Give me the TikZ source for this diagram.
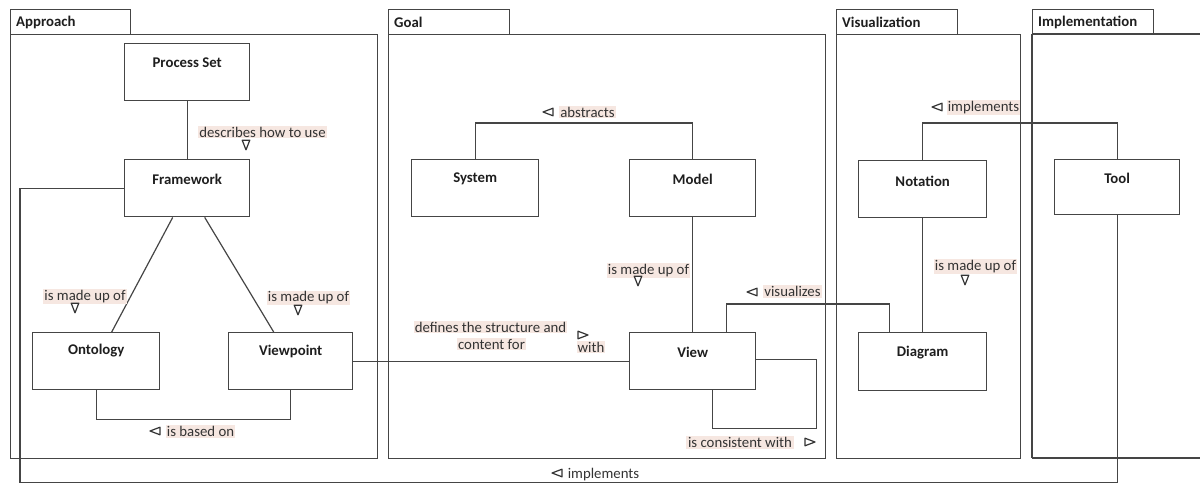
\documentclass[tikz,border=0pt]{standalone}
\usepackage{fontspec}
\setmainfont{Carlito}
\definecolor{lc}{HTML}{454545}
\definecolor{tc}{HTML}{333333}
\definecolor{nc}{HTML}{1E1E1E}
\definecolor{lbg}{HTML}{F6E7E1}
\begin{document}
\begin{tikzpicture}[x=1pt,y=-1pt,
  ln/.style={draw=lc, line width=1.2pt},
  pkline/.style={draw=lc, line width=1.4pt, line cap=butt},
  pkbox/.style={draw=lc, line width=1.4pt, inner sep=0pt, anchor=north west},
  blk/.style={draw=lc, line width=1.4pt, inner sep=0pt, anchor=north west, minimum height=57pt},
  nm/.style={font=\fontsize{14.8}{16}\selectfont\bfseries, text=nc, inner sep=0pt},
  pkn/.style={font=\fontsize{14.8}{16}\selectfont\bfseries, text=nc, inner sep=0pt, anchor=west},
  lab/.style={fill=lbg, inner sep=1pt, text=tc, font=\fontsize{14.8}{16}\selectfont},
  plain/.style={inner sep=1pt, text=tc, font=\fontsize{14.8}{16}\selectfont},
  tri/.style={draw=tc, line width=1.2pt, fill=white, line join=round},
  trileft/.pic={\draw[tri] (5,-3.8) -- (5,3.8) -- (-5,0) -- cycle;},
  triright/.pic={\draw[tri] (-5,-3.8) -- (-5,3.8) -- (5,0) -- cycle;},
  tridown/.pic={\draw[tri] (-3.8,-4.8) -- (3.8,-4.8) -- (0,4.8) -- cycle;}
]
\useasboundingbox (0,0) rectangle (1200,484);

% packages
\node[pkbox, minimum width=120pt, minimum height=25pt] (apT) at (10,9) {};
\node[pkbox, minimum width=367pt, minimum height=424pt] (apB) at (10,34) {};
\node[pkn] (apN) at (16,22) {Approach};
\node[pkbox, minimum width=121pt, minimum height=25pt] (goT) at (388,9) {};
\node[pkbox, minimum width=437pt, minimum height=424pt] (goB) at (388,34) {};
\node[pkn] (goN) at (394,22) {Goal};
\node[pkbox, minimum width=121pt, minimum height=25pt] (viT) at (836,9) {};
\node[pkbox, minimum width=184pt, minimum height=424pt] (viB) at (836,34) {};
\node[pkn] (viN) at (842,22) {Visualization};
\node[pkbox, minimum width=121pt, minimum height=25pt] (imT) at (1032,9) {};
\coordinate (imTL) at (1032,34);
\coordinate (imBL) at (1032,458);
\draw[pkline] (imTL) -- (imBL);
\draw[pkline] (imTL) -- ++(175,0);
\draw[pkline] (imBL) -- ++(175,0);
\node[pkn] (imN) at (1038,22) {Implementation};

% blocks
\node[blk, minimum width=125pt] (ps) at (124,43) {};
\node[blk, minimum width=125pt] (fw) at (124,159) {};
\node[blk, minimum width=127pt] (on) at (32,332) {};
\node[blk, minimum width=124pt] (vp) at (228,332) {};
\node[blk, minimum width=127pt] (sy) at (411,159) {};
\node[blk, minimum width=126pt] (mo) at (629,159) {};
\node[blk, minimum width=126pt] (vw) at (629,332) {};
\node[blk, minimum width=128pt] (no) at (858,160) {};
\node[blk, minimum width=128pt, minimum height=58pt] (dg) at (858,332) {};
\node[blk, minimum width=125pt, minimum height=55pt] (tool) at (1054,159) {};

\node[nm] (psT) at ([yshift=-20pt]ps.north) {Process Set};
\node[nm] (fwT) at ([yshift=-20pt]fw.north) {Framework};
\node[nm] (onT) at ([yshift=-19pt]on.north) {Ontology};
\node[nm] (vpT) at ([yshift=-19pt]vp.north) {Viewpoint};
\node[nm] (syT) at ([yshift=-20pt]sy.north) {System};
\node[nm] (moT) at ([yshift=-20pt]mo.north) {Model};
\node[nm] (vwT) at ([yshift=-20pt]vw.north) {View};
\node[nm] (noT) at ([yshift=-21pt]no.north) {Notation};
\node[nm] (dgT) at ([yshift=-21pt]dg.north) {Diagram};
\node[nm] (toolT) at ([yshift=-19pt]tool.north) {Tool};

% connectors
\draw[ln] (ps.south) -- (fw.north);
\draw[ln] ([xshift=-14.5pt]fw.south) -- ([xshift=15.5pt]on.north);
\draw[ln] ([xshift=17.5pt]fw.south) -- ([xshift=-17pt]vp.north);
\draw[ln] (on.south) -- ++(0,29) -| (vp.south);
\draw[ln] (vp.east) -- (vw.west);
\draw[ln] (sy.north) -- ++(0,-36) -| (mo.north);
\draw[ln] (mo.south) -- (vw.north);
\draw[ln] ([yshift=2pt]vw.east) -- ++(60,0) -- ++(0,69) -| ([xshift=20pt]vw.south);
\draw[ln] ([xshift=34pt]vw.north) -- ++(0,-28) -| ([xshift=-33pt]dg.north);
\draw[ln] (no.south) -- (dg.north);
\draw[ln] (no.north) -- ++(0,-37) -| (tool.north);
\draw[ln] (fw.west) -- ++(-104,0) -- ++(0,294) -| (tool.south);

% labels
\node[lab] (l1) at (262.5,132) {describes how to use};
\node[lab] (l2) at (85,296.5) {is made up of};
\node[lab] (l3) at (308.5,298) {is made up of};
\node[lab] (l4) at (200.5,431.5) {is based on};
\node[lab] (l5) at (587.5,112) {abstracts};
\node[lab] (l6) at (648.5,270.5) {is made up of};
\node[lab] (l7) at (792.5,291.5) {visualizes};
\node[lab] (l8a) at (490.5,327) {defines the structure and};
\node[lab] (l8b) at (491.5,344) {content for};
\node[lab] (l9) at (591,347) {with};
\node[lab, inner xsep=2pt] (l10) at (740,442.5) {is consistent with};
\node[lab] (l11) at (975.5,266.5) {is made up of};
\node[lab] (l12) at (983.5,107.5) {implements};
\node[plain] (l13) at (603.5,475) {implements};

% direction triangles
\pic at (246,145) {tridown};
\pic at (75,308) {tridown};
\pic at (298,310) {tridown};
\pic at (155,431) {trileft};
\pic at (548,112) {trileft};
\pic at (638,281) {tridown};
\pic at (752,292) {trileft};
\pic at (583,335) {triright};
\pic at (810,442) {triright};
\pic at (965,280) {tridown};
\pic at (937,107) {trileft};
\pic at (557,473) {trileft};
\end{tikzpicture}
\end{document}
